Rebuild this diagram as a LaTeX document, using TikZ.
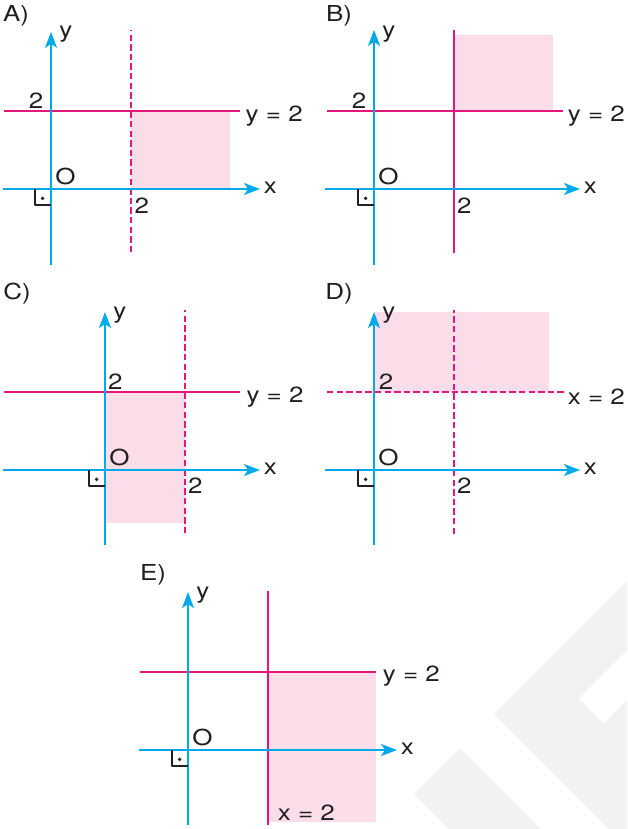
\documentclass[tikz,border=0pt]{standalone}
\usepackage{fontspec}
\setmainfont{TeX Gyre Heros}[FakeStretch=1.18]
\usetikzlibrary{arrows.meta}
\definecolor{xanh}{HTML}{00A9E8}
\definecolor{hong}{HTML}{E5177F}
\definecolor{mien}{HTML}{FBDDE9}
\definecolor{chu}{HTML}{231F20}
\definecolor{nen}{HTML}{F2F2F2}
\begin{document}
\begin{tikzpicture}[x=20pt,y=19.5pt,>={Stealth[length=8pt,width=6pt,inset=2pt]},
		font=\fontsize{11}{13}\selectfont, line join=round,
		truc/.style={xanh,line width=1pt,->},
		dt/.style={hong,line width=1pt},
		dtnet/.style={hong,line width=1pt,dash pattern=on 3.2pt off 1.6pt},
		vung/.style={fill=mien},
		nhan/.style={text=chu,inner sep=0pt}]
		\useasboundingbox (0,0) rectangle (15.675,-21.256);
		% logo mo
		\begin{scope}[x=0.5pt,y=-0.5pt]
			\fill[nen] (494,714)--(627,581)--(627,650)--(578.5,698.5)--(603.5,723.5)--(627,700)--(627,829)--(609,829)--cycle;
			\fill[nen] (414,794)--(460,748)--(541,829)--(449,829)--cycle;
		\end{scope}
		% A
		\begin{scope}[shift={(1.275,-4.846)}]
			\fill[vung] (2,0) rectangle (4.475,2);
			\draw[dtnet] (2,-1.62)--(2,4.08);
			\draw[dt] (-1.175,2)--(4.725,2);
			\node[nhan] (A-pt) at (5.58,1.87) {y = 2};
			\node[nhan] (A-2y) at (-0.375,2.256) {2};
			\node[nhan] (A-2x) at (2.27,-0.436) {2};
		\end{scope}
		% B
		\begin{scope}[shift={(9.35,-4.846)}]
			\fill[vung] (2,2) rectangle (4.475,3.95);
			\draw[dt] (2,-1.64)--(2,4.08);
			\draw[dt] (-1.175,2)--(4.725,2);
			\node[nhan] (B-pt) at (5.56,1.87) {y = 2};
			\node[nhan] (B-2y) at (-0.375,2.256) {2};
			\node[nhan] (B-2x) at (2.26,-0.436) {2};
		\end{scope}
		% C
		\begin{scope}[shift={(2.625,-12.051)}]
			\fill[vung] (0,-1.36) rectangle (2,2);
			\draw[dtnet] (2,-1.62)--(2,4.1);
			\draw[dt] (-2.525,2)--(3.375,2);
			\node[nhan] (C-pt) at (4.25,1.87) {y = 2};
			\node[nhan] (C-2y) at (0.26,2.27) {2};
			\node[nhan] (C-2x) at (2.26,-0.41) {2};
		\end{scope}
		% D
		\begin{scope}[shift={(9.35,-12.051)}]
			\fill[vung] (0,2) rectangle (4.375,4.05);
			\draw[dtnet] (2,-1.64)--(2,4.1);
			\draw[dtnet] (-1.175,2)--(4.775,2);
			\node[nhan] (D-pt) at (5.56,1.88) {x = 2};
			\node[nhan] (D-2y) at (0.3,2.27) {2};
			\node[nhan] (D-2x) at (2.26,-0.41) {2};
		\end{scope}
		% E
		\begin{scope}[shift={(4.7,-19.231)}]
			\fill[vung] (2,-1.85) rectangle (4.7,2);
			\draw[dt] (2,-1.92)--(2,4.08);
			\draw[dt] (-1.2,2)--(4.7,2);
			\node[nhan] (E-pt) at (5.585,1.89) {y = 2};
			\node[nhan] (E-px) at (2.96,-1.6) {x = 2};
		\end{scope}
		% he truc
		\foreach \p/\ox/\oy/\xa/\xb/\ya/\yb/\lx/\ly in {A/1.275/-4.846/-1.2/5.225/-1.95/4.03/-0.875/4.436,
			B/9.35/-4.846/-1.225/5.15/-1.95/4.08/-0.875/4.436,
			C/2.625/-12.051/-2.55/3.875/-1.92/4.05/-2.2/4.51,
			D/9.35/-12.051/-1.225/5.15/-1.92/4.05/-0.875/4.51,
			E/4.7/-19.231/-1.225/5.225/-1.92/4.05/-0.875/4.49}{
			\begin{scope}[shift={(\ox,\oy)}]
				\draw[truc] (\xa,0)--(\xb,0);
				\draw[truc] (0,\ya)--(0,\yb);
				\draw[chu,line width=0.65pt] (-0.4,0)--(-0.4,-0.41)--(0,-0.41);
				\fill[chu] (-0.21,-0.24) circle (0.95pt);
				\node[nhan] (\p-O) at (0.36,0.32) {O};
				\node[nhan] (\p-x) at ({\xb+0.26},0.03) {x};
				\node[nhan] (\p-y) at (0.37,3.97) {y};
				\node[nhan] (\p-ten) at (\lx,\ly) {\p)};
			\end{scope}}
\end{tikzpicture}
\end{document}
